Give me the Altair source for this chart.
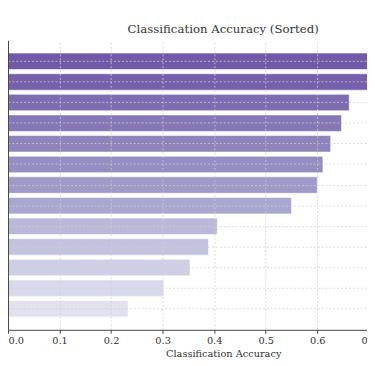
import altair as alt
import pandas as pd

models = [
    "Deep Ensembles", "ResNet-152", "Transfer Model", "Gradient Boosting",
    "Random Forest", "DenseNet-121", "EfficientNet-B2", "VGG-16/32",
    "AdaBoost", "SVM Kernels", "kNN Classifiers", "Naive Bayes Models", "Logistic",
]
accuracy = [0.795, 0.770, 0.662, 0.647, 0.626, 0.611, 0.600, 0.550,
            0.406, 0.389, 0.353, 0.302, 0.233]
tick_values = [0.0, 0.1, 0.2, 0.3, 0.4, 0.5, 0.6, 0.7, 0.8]

palette = ["#6a51a3", "#6f57a7", "#7865ad", "#8071b3", "#8a7db9", "#9088be",
           "#9a95c6", "#a5a3cd", "#b7b5d8", "#c1c0de", "#cccce4", "#d7d7eb",
           "#e1e1ef"]

df = pd.DataFrame({"model": models, "accuracy": accuracy})

FONT = "DejaVu Serif"

bars = alt.Chart(df).mark_bar(opacity=0.95, stroke="white", strokeWidth=0.6).encode(
    x=alt.X(
        "accuracy:Q",
        scale=alt.Scale(domain=[0, 0.835], nice=False, zero=True),
        axis=alt.Axis(
            values=tick_values, format=".1f", title="Classification Accuracy",
            grid=True, gridDash=[2, 2], gridColor="#d0d0d0", gridWidth=0.8,
            zindex=1, titlePadding=3,
        ),
    ),
    y=alt.Y(
        "model:N", sort=models,
        scale=alt.Scale(paddingInner=0.2, paddingOuter=0.62),
        axis=alt.Axis(
            title=None, bandPosition=0.5, grid=True, gridDash=[2, 2],
            gridColor="#d0d0d0", gridWidth=0.8, zindex=1,
        ),
    ),
    color=alt.Color("model:N", sort=models,
                    scale=alt.Scale(domain=models, range=palette), legend=None),
)

chart = bars.properties(
    width=440,
    height=296,
    autosize=alt.AutoSizeParams(type="none"),
    padding={"left": 0, "top": 29, "right": -73, "bottom": 33},
    title=alt.TitleParams(
        "Classification Accuracy (Sorted)", font=FONT, fontSize=12,
        fontWeight="normal", color="#333333", offset=4, anchor="middle",
    ),
).configure_view(stroke=None).configure_axis(
    labelFont=FONT, titleFont=FONT, labelFontSize=10, titleFontSize=10,
    titleFontWeight="normal", labelColor="#333333", titleColor="#333333",
    domainColor="#444444", tickColor="#444444", tickSize=3.5, labelPadding=3,
)

chart.save("out.html", embed_options={"renderer": "svg", "actions": False})
